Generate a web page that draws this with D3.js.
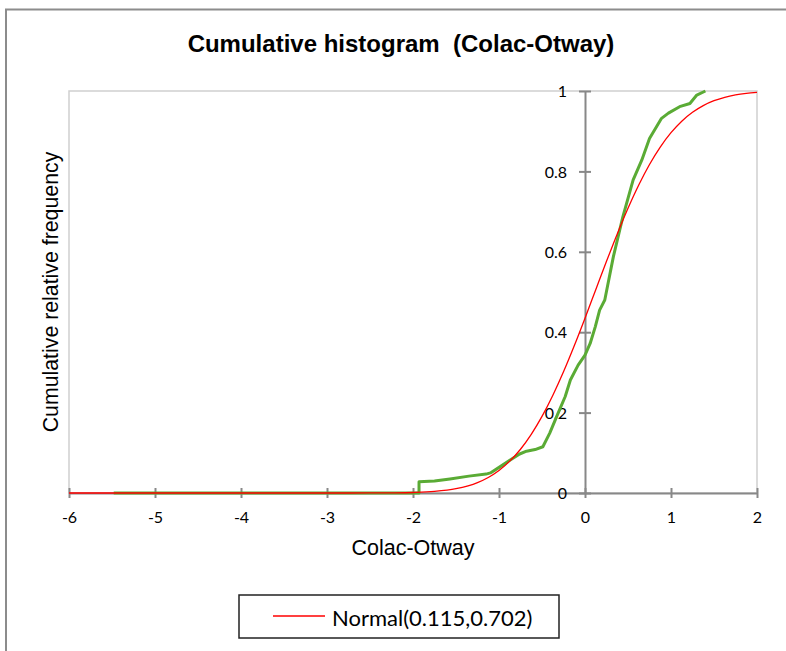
<!DOCTYPE html>
<html><head><meta charset="utf-8">
<script src="https://cdn.jsdelivr.net/npm/d3@7"></script>
<style>body{margin:0;background:#fff}svg{display:block}</style>
</head><body>
<svg id="c" width="786" height="651"></svg>
<script>
// ---- data ----
const xTicks = [-6,-5,-4,-3,-2,-1,0,1,2];
const yTicks = [0,0.2,0.4,0.6,0.8,1];
const yTickLabels = ["0","0.2","0.4","0.6","0.8","1"];
const ecdfX = [-5.48,-1.93,-1.93,-1.75,-1.57,-1.35,-1.15,-1.10,-0.99,-0.87,-0.76,-0.68,-0.58,-0.49,-0.41,-0.33,-0.23,-0.17,-0.08,0.00,0.06,0.12,0.17,0.23,0.33,0.44,0.56,0.66,0.75,0.89,0.97,1.10,1.22,1.30,1.40];
const ecdfY = [0,0,0.028,0.030,0.035,0.042,0.047,0.050,0.065,0.082,0.097,0.104,0.108,0.115,0.149,0.190,0.240,0.281,0.318,0.343,0.372,0.414,0.455,0.480,0.588,0.687,0.779,0.828,0.882,0.932,0.945,0.961,0.969,0.990,1.000];
// Normal(0.115,0.702) curve (red)
const normX = [-6,-3,-2.5,-2.25,-2,-1.75,-1.5,-1.25,-1.125,-1,-0.875,-0.75,-0.625,-0.5,-0.375,-0.25,-0.125,0,0.125,0.25,0.375,0.5,0.625,0.75,0.875,1,1.125,1.25,1.375,1.5,1.625,1.75,1.875,2];
const normY = [0,0,0.0001,0.0004,0.0013,0.0039,0.0107,0.0259,0.0387,0.0561,0.0792,0.1089,0.1459,0.1905,0.2426,0.3015,0.3662,0.4349,0.5057,0.5763,0.6445,0.7082,0.7662,0.8172,0.8605,0.8963,0.9249,0.9470,0.9637,0.9758,0.9843,0.9901,0.9939,0.9964];
const legendLabel = "Normal(0.115,0.702)";
const titleText = "Cumulative histogram  (Colac-Otway)";
const xTitle = "Colac-Otway";
const yTitle = "Cumulative relative frequency";

// ---- layout ----
const svg = d3.select("#c");
const L = 69, R = 757, T = 91, B = 493;
const x = d3.scaleLinear().domain([-6,2]).range([L,R]);
const y = d3.scaleLinear().domain([0,1]).range([B,T]);

// outer frame
svg.append("rect").attr("x",6).attr("y",9.5).attr("width",820).attr("height",700)
  .attr("fill","#fff").attr("stroke","#8c8c8c").attr("stroke-width",2);

// plot area border (light)
svg.append("rect").attr("x",L).attr("y",T).attr("width",R-L).attr("height",B-T)
  .attr("fill","none").attr("stroke","#cfcfcf").attr("stroke-width",1.5);

// x axis
const xAxis = d3.axisBottom(x).tickValues(xTicks).tickSize(0).tickFormat(d3.format("d"));
const gx = svg.append("g").attr("transform",`translate(0,${B})`).call(xAxis);
gx.select(".domain").attr("stroke","#888").attr("stroke-width",2);
gx.selectAll(".tick line").attr("y1",-5).attr("y2",5).attr("stroke","#888").attr("stroke-width",2);
gx.selectAll(".tick text").attr("y",29.5).attr("dy",null)
  .attr("font-family","Lato, 'Open Sans', sans-serif").attr("font-size",16).attr("fill","#000")
  .text(d=> d<0 ? "-"+Math.abs(d) : d);

// y axis at x = 0
const yAxis = d3.axisLeft(y).tickValues(yTicks).tickSize(0).tickFormat((d,i)=>yTickLabels[i]);
const gy = svg.append("g").attr("transform",`translate(${x(0)},0)`).call(yAxis);
gy.select(".domain").attr("stroke","#888").attr("stroke-width",2);
gy.selectAll(".tick line").attr("x1",-6).attr("x2",6).attr("stroke","#888").attr("stroke-width",2);
gy.selectAll(".tick text").attr("x",-18).attr("dy","0.35em")
  .attr("font-family","Lato, 'Open Sans', sans-serif").attr("font-size",16).attr("fill","#000");

// green empirical curve
const ecdf = ecdfX.map((v,i)=>[v,ecdfY[i]]);
svg.append("path").datum(ecdf)
  .attr("d",d3.line().x(d=>x(d[0])).y(d=>y(d[1])).curve(d3.curveLinear))
  .attr("fill","none").attr("stroke","#5aab35").attr("stroke-width",3).attr("stroke-linejoin","round");

// red normal curve
const norm = normX.map((v,i)=>[v,normY[i]]);
svg.append("path").datum(norm)
  .attr("d",d3.line().x(d=>x(d[0])).y(d=>y(d[1])).curve(d3.curveMonotoneX))
  .attr("fill","none").attr("stroke","#ff0000").attr("stroke-width",1.3);

// titles
svg.append("text").attr("x",401).attr("y",52).attr("text-anchor","middle")
  .attr("font-family","'Liberation Sans', Arial, sans-serif").attr("font-weight","bold").attr("font-size",24)
  .attr("xml:space","preserve").style("white-space","pre").text(titleText);
svg.append("text").attr("x",(L+R)/2).attr("y",555).attr("text-anchor","middle")
  .attr("font-family","'Liberation Sans', Arial, sans-serif").attr("font-size",21.5).text(xTitle);
svg.append("text").attr("transform",`translate(58,${(T+B)/2}) rotate(-90)`).attr("text-anchor","middle")
  .attr("font-family","'Liberation Sans', Arial, sans-serif").attr("font-size",21.3).text(yTitle);

// legend
const lg = svg.append("g");
lg.append("rect").attr("x",239).attr("y",595).attr("width",320).attr("height",43)
  .attr("fill","#fff").attr("stroke","#222").attr("stroke-width",1.5);
lg.append("line").attr("x1",273).attr("x2",325).attr("y1",616).attr("y2",616)
  .attr("stroke","#ff0000").attr("stroke-width",1.3);
lg.append("text").attr("x",332).attr("y",626).attr("font-family","Lato, 'Open Sans', sans-serif")
  .attr("font-size",22).attr("fill","#000").text(legendLabel);
</script>
</body></html>
